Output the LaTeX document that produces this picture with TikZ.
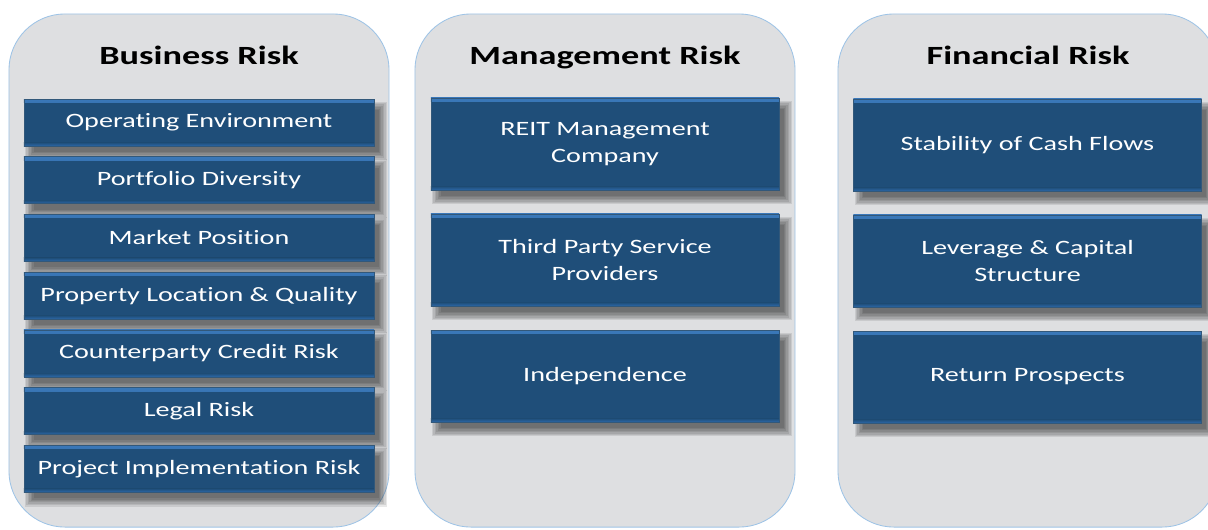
\documentclass[tikz,border=0pt]{standalone}
\usepackage{fontspec}
\setmainfont[FakeStretch=1.38,RawFeature={-liga;-clig;-calt}]{Carlito}
\usepackage{tikz}
\usetikzlibrary{positioning,backgrounds}

\definecolor{panelfill}{RGB}{222,223,225}
\definecolor{panelline}{RGB}{157,195,230}
\definecolor{boxblue}{RGB}{31,78,121}
\definecolor{boxhi}{RGB}{58,120,185}
\definecolor{boxlo}{RGB}{44,104,168}

\pgfdeclarelayer{shade}
\pgfsetlayers{background,shade,main}

\begin{document}
\begin{tikzpicture}[x=0.025cm,y=-0.025cm,
        panel/.style={draw=panelline,fill=panelfill,line width=0.6pt,rounded corners=1.4cm,
            minimum width=9.5cm,minimum height=12.825cm,inner sep=0pt},
        paneltitle/.style={font=\fontsize{18.7}{22}\selectfont\bfseries,anchor=base,inner sep=0pt},
        riskbox/.style={fill=boxblue,draw=boxblue!80!gray,line width=0.4pt,text=white,
            font=\fontsize{14.5}{19.2}\selectfont,align=center,inner sep=0pt,
            path picture={
                \shade[top color=boxhi,bottom color=boxblue]
                    (path picture bounding box.north west) rectangle
                    ([yshift=-2.5pt]path picture bounding box.north east);
                \shade[top color=boxblue,bottom color=boxlo]
                    ([yshift=2.5pt]path picture bounding box.south west) rectangle
                    (path picture bounding box.south east);
            }},
        smallbox/.style={riskbox,minimum width=8.75cm,minimum height=1.175cm},
        bigbox/.style={riskbox,minimum width=8.7cm,minimum height=2.3cm},
        boxshadow/.style={fill=black,fill opacity=0.09}]
            \useasboundingbox (0,0) rectangle (1208,529);
            % the three columns
            \begin{scope}[on background layer]
                \node[panel] (pb) at (199,270.5) {};
                \node[panel] (pm) at (605,270.5) {};
                \node[panel] (pf) at (1028,270.5) {};
            \end{scope}
            \node[paneltitle] (tb) at (199,64) {Business Risk};
            \node[paneltitle] (tm) at (605,64) {Management Risk};
            \node[paneltitle] (tf) at (1028,64) {Financial Risk};
            % business risk
            \foreach \txt [count=\i] in {Operating Environment, Portfolio Diversity, Market Position,
                    Property Location \& Quality, Counterparty Credit Risk, Legal Risk,
                    Project Implementation Risk}
                \node[smallbox] (b\i) at (199,{122.5+57.7*(\i-1)}) {\txt};
            % management risk
            \foreach \txt [count=\i] in {{REIT Management\\Company}, {Third Party Service\\Providers},
                    Independence}
                \node[bigbox] (m\i) at (605,{144+116*(\i-1)}) {\txt};
            % financial risk
            \foreach \txt [count=\i] in {Stability of Cash Flows, {Leverage \& Capital\\Structure},
                    Return Prospects}
                \node[bigbox] (f\i) at (1027.5,{145+116*(\i-1)}) {\txt};
            % soft shadows behind the boxes
            \begin{pgfonlayer}{shade}
                \foreach \n in {b1,b2,b3,b4,b5,b6,b7,m1,m2,m3,f1,f2,f3}
                    \foreach \e in {-2,-1,0,1,2,3,4}
                        \fill[boxshadow] ([xshift={(5-\e)*1pt},yshift={(-6+\e)*1pt}]\n.north west)
                            rectangle ([xshift={(5+\e)*1pt},yshift={(-6-\e)*1pt}]\n.south east);
            \end{pgfonlayer}
        \end{tikzpicture}
\end{document}
